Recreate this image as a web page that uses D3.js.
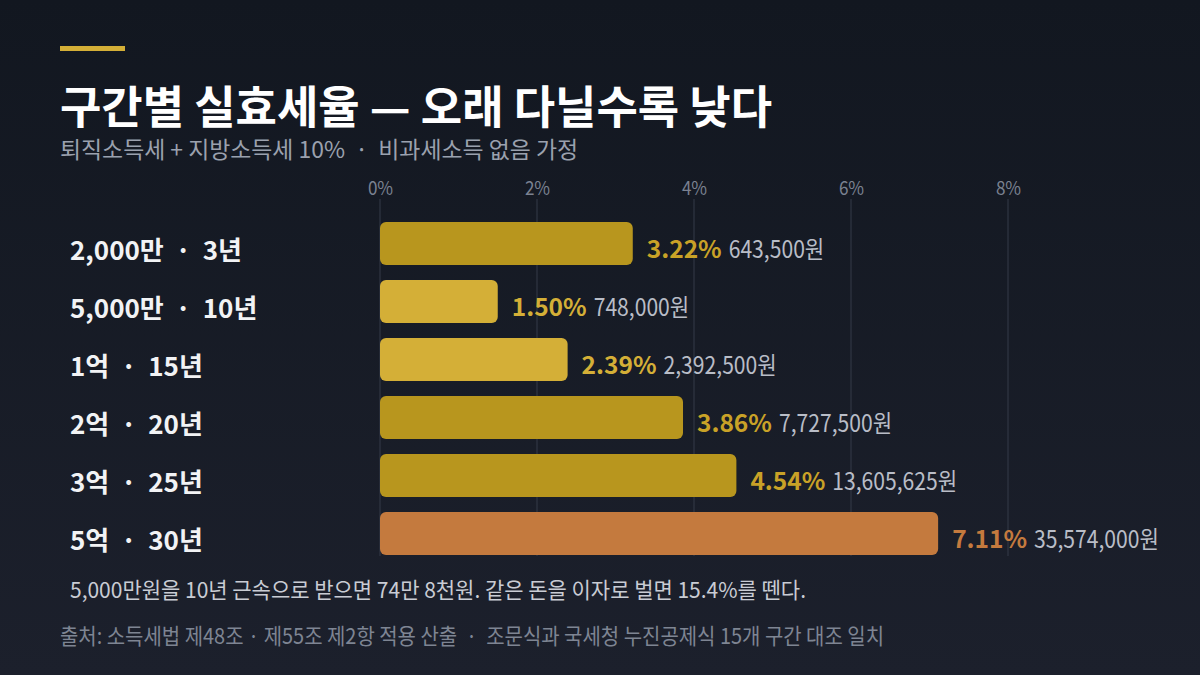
<!DOCTYPE html>
<html><head><meta charset="utf-8">
<script src="https://cdn.jsdelivr.net/npm/d3@7"></script>
<style>
html,body{margin:0;padding:0;background:#141922;}
svg{display:block;font-family:"Noto Sans CJK KR","Noto Sans",sans-serif;}
text{white-space:pre;}
</style></head>
<body>
<svg id="chart" width="1200" height="675"></svg>
<script>
const categories = ["2,000만 · 3년","5,000만 · 10년","1억 · 15년","2억 · 20년","3억 · 25년","5억 · 30년"];
const rates = [3.22, 1.50, 2.39, 3.86, 4.54, 7.11];
const amounts = ["643,500원","748,000원","2,392,500원","7,727,500원","13,605,625원","35,574,000원"];
const barColors = ["#B8961E","#D4AF37","#D4AF37","#B8961E","#B8961E","#C47A3E"];
const labelColors = ["#C9A227","#D4AF37","#D4AF37","#C9A227","#C9A227","#C47A3E"];
const tickValues = [0,2,4,6,8];
const titleText = "구간별 실효세율 — 오래 다닐수록 낮다";
const subtitleText = "퇴직소득세 + 지방소득세 10%  ·  비과세소득 없음 가정";
const noteText = "5,000만원을 10년 근속으로 받으면 74만 8천원. 같은 돈을 이자로 벌면 15.4%를 뗀다.";
const sourceText = "출처: 소득세법 제48조 · 제55조 제2항 적용 산출  ·  조문식과 국세청 누진공제식 15개 구간 대조 일치";

const svg = d3.select("#chart");
const W = 1200, H = 675;
const COND = 0.88;

const defs = svg.append("defs");
const g = defs.append("linearGradient").attr("id","bg").attr("x1",0).attr("y1",0).attr("x2",0).attr("y2",1);
g.append("stop").attr("offset","0%").attr("stop-color","#121720");
g.append("stop").attr("offset","100%").attr("stop-color","#1c202c");
svg.append("rect").attr("width",W).attr("height",H).attr("fill","url(#bg)");

// accent
svg.append("rect").attr("x",60).attr("y",46).attr("width",65).attr("height",5).attr("fill","#D4AF37");

svg.append("text").attr("x",60).attr("y",124).attr("fill","#ffffff")
  .attr("font-size",45).attr("font-weight",700)
  .attr("textLength",712).attr("lengthAdjust","spacingAndGlyphs")
  .text(titleText);
svg.append("text").attr("x",60).attr("y",158).attr("fill","#9ba1ae")
  .attr("font-size",23)
  .attr("textLength",518).attr("lengthAdjust","spacingAndGlyphs")
  .text(subtitleText);

const x = d3.scaleLinear().domain([0,8]).range([380,1008]);
const pi = 15/58;
const y = d3.scaleBand().domain(categories).range([214.5,562.5]).paddingInner(pi).paddingOuter(pi/2);

// grid
svg.append("g").selectAll("line").data(tickValues).join("line")
  .attr("x1",d=>x(d)).attr("x2",d=>x(d)).attr("y1",199).attr("y2",556)
  .attr("stroke","#343a49").attr("stroke-width",1);

const axis = d3.axisTop(x).tickValues(tickValues).tickFormat(d=>d+"%").tickSize(0).tickPadding(0);
const ax = svg.append("g").attr("transform","translate(0,195)").call(axis);
ax.select(".domain").remove();
ax.selectAll("text").attr("fill","#7b8291").attr("font-size",19)
  .attr("font-family","\"Noto Sans CJK KR\",\"Noto Sans\",sans-serif").attr("dy",0)
  .attr("transform","scale(0.9,1)").attr("x",function(){ return 0; });
ax.selectAll(".tick text").attr("transform",null).attr("textLength",null);
ax.selectAll(".tick text").each(function(){
  d3.select(this).attr("transform","scale(0.9,1)");
});

// bars
svg.append("g").selectAll("rect").data(categories).join("rect")
  .attr("x",x(0)).attr("y",d=>y(d))
  .attr("width",(d,i)=>x(rates[i])-x(0)).attr("height",y.bandwidth())
  .attr("rx",6).attr("fill",(d,i)=>barColors[i]);

// category labels
svg.append("g").selectAll("text").data(categories).join("text")
  .attr("x",70).attr("y",d=>y(d)+y.bandwidth()/2+16)
  .attr("fill","#f2f3f5").attr("font-size",26).attr("font-weight",700)
  .text(d=>d.replace(" · ","  ·  "));

// value labels
const vg = svg.append("g");
categories.forEach((c,i)=>{
  const bx = x(rates[i]) + 14;
  const by = y(c) + y.bandwidth()/2 + 14.5;
  const pct = vg.append("text").attr("x",bx).attr("y",by)
    .attr("fill",labelColors[i]).attr("font-size",24.5).attr("font-weight",700)
    .text(rates[i].toFixed(2)+"%");
  const w = pct.node().getComputedTextLength();
  vg.append("text").attr("transform",`translate(${bx+w+7},${by}) scale(${COND},1)`)
    .attr("fill","#b9bdc7").attr("font-size",24)
    .text(amounts[i]);
});

svg.append("text").attr("x",70).attr("y",598).attr("fill","#c9ccd4").attr("font-size",22)
  .attr("textLength",736).attr("lengthAdjust","spacingAndGlyphs")
  .text(noteText);
svg.append("text").attr("x",60).attr("y",644).attr("fill","#7e8593").attr("font-size",22)
  .attr("textLength",824).attr("lengthAdjust","spacingAndGlyphs")
  .text(sourceText);
</script>
</body></html>
